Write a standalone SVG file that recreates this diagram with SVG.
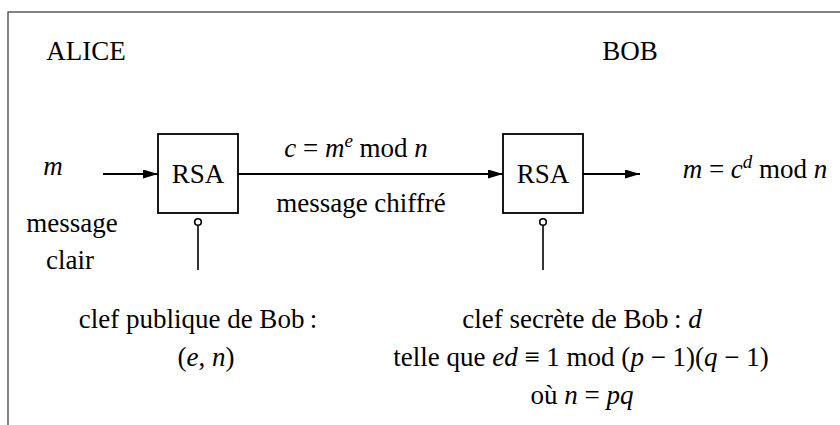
<svg xmlns="http://www.w3.org/2000/svg" width="840" height="425" viewBox="0 0 840 425">
<style>
text { font-family: "Liberation Serif", "DejaVu Serif", serif; font-size: 27px; fill: #000; }
.c { text-anchor: middle; }
.i { font-style: italic; }
.sup { font-size: 19px; font-style: italic; }
.box { fill: #fff; stroke: #000; stroke-width: 1.8; }
.wire { stroke: #000; stroke-width: 2; fill: none; }
.key { stroke: #000; stroke-width: 1.6; fill: none; }
.frame { fill: none; stroke: #333; stroke-width: 1.2; }
</style>
<defs>
<marker id="ah" viewBox="0 0 15 9" refX="15" refY="4.5" markerWidth="15" markerHeight="9" markerUnits="userSpaceOnUse" orient="auto">
<path d="M0,0 L15,4.5 L0,9 Z" fill="#000"/>
</marker>
</defs>
<rect class="frame" x="8" y="12" width="900" height="500"/>

<g id="connectors">
<line class="wire" x1="103" y1="174" x2="158" y2="174" marker-end="url(#ah)"/>
<line class="wire" x1="238" y1="174" x2="503" y2="174" marker-end="url(#ah)"/>
<line class="wire" x1="583" y1="174" x2="640" y2="174" marker-end="url(#ah)"/>
<line class="key" x1="198" y1="225.5" x2="198" y2="270"/>
<circle class="key" cx="198" cy="222" r="3.3"/>
<line class="key" x1="543" y1="225.5" x2="543" y2="270"/>
<circle class="key" cx="543" cy="222" r="3.3"/>
</g>

<g id="alice"><text class="c" x="86" y="60">ALICE</text></g>
<g id="bob"><text class="c" x="630" y="60">BOB</text></g>

<g id="input">
<text class="c i" x="53" y="175">m</text>
<text class="c" x="72" y="232">message</text>
<text class="c" x="70" y="269">clair</text>
</g>

<g id="rsa-enc">
<rect class="box" x="158" y="134" width="80" height="79"/>
<text class="c" x="198" y="183">RSA</text>
</g>

<g id="rsa-dec">
<rect class="box" x="503" y="134" width="80" height="79"/>
<text class="c" x="543" y="183">RSA</text>
</g>

<g id="cipher-label">
<text class="c" x="356" y="157"><tspan class="i">c</tspan> = <tspan class="i">m</tspan><tspan class="sup" dy="-10">e</tspan><tspan dy="10"> mod </tspan><tspan class="i">n</tspan></text>
<text class="c" x="361" y="212">message chiffré</text>
</g>

<g id="output">
<text class="c" x="755" y="178"><tspan class="i">m</tspan> = <tspan class="i">c</tspan><tspan class="sup" dy="-10">d</tspan><tspan dy="10"> mod </tspan><tspan class="i">n</tspan></text>
</g>

<g id="public-key">
<text class="c" x="198" y="328">clef publique de Bob&#8201;:</text>
<text class="c" x="206" y="366">(<tspan class="i">e</tspan>, <tspan class="i">n</tspan>)</text>
</g>

<g id="secret-key">
<text class="c" x="582" y="328">clef secrète de Bob&#8201;: <tspan class="i">d</tspan></text>
<text class="c" x="581" y="366">telle que <tspan class="i">ed</tspan> ≡ 1 mod (<tspan class="i">p</tspan> − 1)(<tspan class="i">q</tspan> − 1)</text>
<text class="c" x="582" y="404">où <tspan class="i">n</tspan> = <tspan class="i">pq</tspan></text>
</g>
</svg>
